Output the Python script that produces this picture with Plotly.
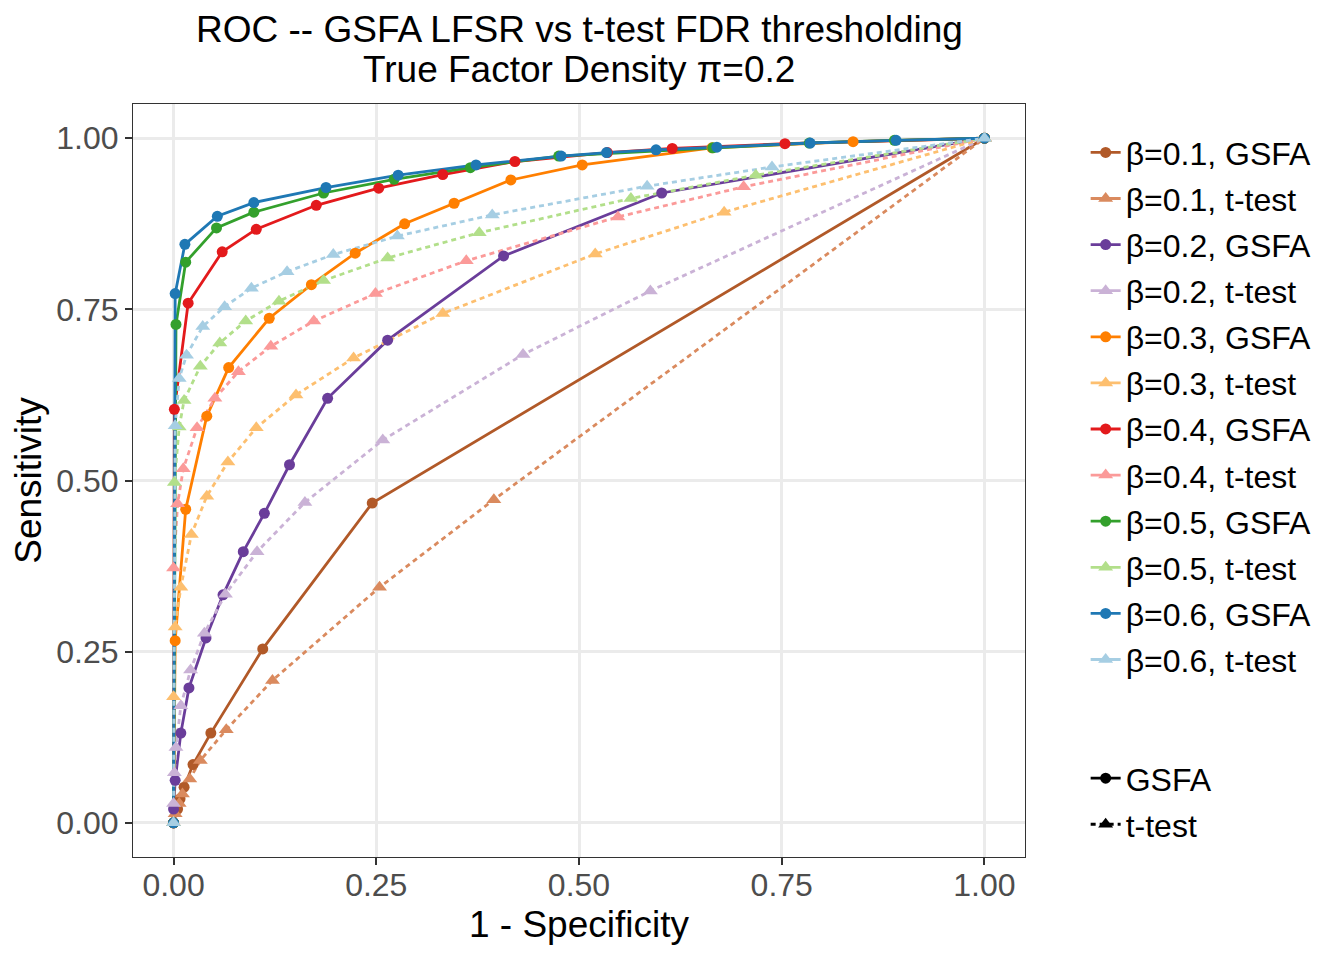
# ROC CHART: GSFA LFSR VS T-TEST FDR THRESHOLDING
# ===============================================

# LIBRARIES AND MODULES
# ----------------------
import plotly.graph_objects as charts

# DATA
# -------------------------------------

# Effect sizes and methods
betaLabels = ['β=0.1', 'β=0.2', 'β=0.3', 'β=0.4', 'β=0.5', 'β=0.6']
methodLabels = ['GSFA', 't-test']

# 1 - Specificity (x) and Sensitivity (y) for every beta / method
gsfaX01 = [0, 0.005, 0.008, 0.013, 0.024, 0.046, 0.110, 0.245, 1.0]
gsfaY01 = [0, 0.020, 0.035, 0.052, 0.085, 0.131, 0.254, 0.467, 1.0]
ttestX01 = [0, 0.002, 0.007, 0.011, 0.020, 0.033, 0.065, 0.122, 0.254, 0.395, 1.0]
ttestY01 = [0, 0.013, 0.028, 0.042, 0.064, 0.091, 0.136, 0.208, 0.344, 0.472, 1.0]

gsfaX02 = [0, 0.0, 0.002, 0.009, 0.019, 0.040, 0.061, 0.086, 0.112, 0.143, 0.190, 0.264, 0.407, 0.602, 1.0]
gsfaY02 = [0, 0.020, 0.062, 0.131, 0.197, 0.270, 0.333, 0.396, 0.452, 0.523, 0.620, 0.705, 0.828, 0.920, 1.0]
ttestX02 = [0, 0.0, 0.001, 0.003, 0.009, 0.021, 0.038, 0.064, 0.103, 0.162, 0.258, 0.431, 0.588, 1.0]
ttestY02 = [0, 0.028, 0.073, 0.110, 0.171, 0.223, 0.277, 0.334, 0.396, 0.468, 0.559, 0.684, 0.777, 1.0]

gsfaX03 = [0, 0.002, 0.015, 0.041, 0.068, 0.118, 0.170, 0.224, 0.285, 0.346, 0.416, 0.504, 0.664, 0.838, 1.0]
gsfaY03 = [0, 0.266, 0.458, 0.594, 0.665, 0.737, 0.786, 0.832, 0.875, 0.905, 0.939, 0.961, 0.986, 0.995, 1.0]
ttestX03 = [0, 0.0, 0.002, 0.009, 0.022, 0.041, 0.067, 0.102, 0.151, 0.222, 0.332, 0.520, 0.679, 1.0]
ttestY03 = [0, 0.184, 0.286, 0.344, 0.421, 0.477, 0.527, 0.577, 0.625, 0.679, 0.744, 0.831, 0.892, 1.0]

gsfaX04 = [0, 0.001, 0.018, 0.060, 0.102, 0.176, 0.253, 0.332, 0.421, 0.535, 0.615, 0.754, 1.0]
gsfaY04 = [0, 0.604, 0.759, 0.834, 0.867, 0.902, 0.927, 0.947, 0.966, 0.979, 0.985, 0.992, 1.0]
ttestX04 = [0, 0.0, 0.005, 0.012, 0.029, 0.051, 0.080, 0.120, 0.173, 0.249, 0.361, 0.548, 0.703, 1.0]
ttestY04 = [0, 0.372, 0.466, 0.517, 0.577, 0.620, 0.659, 0.696, 0.733, 0.773, 0.821, 0.885, 0.929, 1.0]

gsfaX05 = [0, 0.003, 0.015, 0.053, 0.099, 0.185, 0.272, 0.366, 0.475, 0.665, 0.784, 0.889, 1.0]
gsfaY05 = [0, 0.728, 0.819, 0.869, 0.892, 0.920, 0.940, 0.957, 0.974, 0.986, 0.993, 0.997, 1.0]
ttestX05 = [0, 0.001, 0.007, 0.013, 0.033, 0.057, 0.089, 0.130, 0.185, 0.264, 0.377, 0.564, 0.718, 1.0]
ttestY05 = [0, 0.497, 0.578, 0.617, 0.667, 0.701, 0.733, 0.762, 0.792, 0.825, 0.862, 0.912, 0.946, 1.0]

gsfaX06 = [0, 0.002, 0.014, 0.054, 0.099, 0.188, 0.277, 0.373, 0.478, 0.534, 0.595, 0.670, 0.785, 0.891, 1.0]
gsfaY06 = [0, 0.773, 0.845, 0.886, 0.906, 0.928, 0.946, 0.961, 0.974, 0.979, 0.983, 0.987, 0.993, 0.997, 1.0]
ttestX06 = [0, 0.002, 0.007, 0.016, 0.036, 0.063, 0.096, 0.140, 0.197, 0.276, 0.393, 0.584, 0.738, 1.0]
ttestY06 = [0, 0.580, 0.649, 0.683, 0.725, 0.754, 0.781, 0.805, 0.830, 0.857, 0.888, 0.930, 0.958, 1.0]

# Axis ticks
tickValues = [0, 0.25, 0.5, 0.75, 1.0]
tickLabels = ['0.00', '0.25', '0.50', '0.75', '1.00']

# Title lines
titleLines = ['ROC -- GSFA LFSR vs t-test FDR thresholding', 'True Factor Density π=0.2']

# Colors (dark = GSFA, light = t-test)
gsfaColors = ['#B15928', '#6A3D9A', '#FF7F00', '#E31A1C', '#33A02C', '#1F78B4']
ttestColors = ['#DA8A5E', '#CAB2D6', '#FDBF6F', '#FB9A99', '#B2DF8A', '#A6CEE3']

# Series in ggplot order: (beta, method, x, y, color)
allSeries = []
gsfaXs = [gsfaX01, gsfaX02, gsfaX03, gsfaX04, gsfaX05, gsfaX06]
gsfaYs = [gsfaY01, gsfaY02, gsfaY03, gsfaY04, gsfaY05, gsfaY06]
ttestXs = [ttestX01, ttestX02, ttestX03, ttestX04, ttestX05, ttestX06]
ttestYs = [ttestY01, ttestY02, ttestY03, ttestY04, ttestY05, ttestY06]
for ix, beta in enumerate(betaLabels):
    allSeries.append((beta, 'GSFA', gsfaXs[ix], gsfaYs[ix], gsfaColors[ix]))
    allSeries.append((beta, 't-test', ttestXs[ix], ttestYs[ix], ttestColors[ix]))

# FIGURE
# ------
fontName = 'Liberation Sans, Arial, sans-serif'
dashStyle = '5px,4px'
lineWidth = 2.8


def markerStyle(method, color):
    """Circle for GSFA, triangle for t-test"""
    if method == 'GSFA':
        return dict(color=color, size=11, symbol='circle')
    return dict(color=color, size=13, symbol='triangle-up')


figure = charts.Figure()

# Lines first (like geom_line), then markers on top (like geom_point)
for beta, method, xValues, yValues, color in allSeries:
    figure.add_trace(charts.Scatter(
        x=xValues, y=yValues, mode='lines', showlegend=False, hoverinfo='skip',
        line=dict(color=color, width=lineWidth, dash='solid' if method == 'GSFA' else dashStyle)
    ))
for beta, method, xValues, yValues, color in allSeries:
    figure.add_trace(charts.Scatter(
        x=xValues, y=yValues, mode='markers', showlegend=False,
        name=beta + ', ' + method, marker=markerStyle(method, color)
    ))

# Legend entries for colors (solid keys, as in ggplot)
for beta, method, xValues, yValues, color in allSeries:
    figure.add_trace(charts.Scatter(
        x=[None], y=[None], mode='lines+markers', name=beta + ', ' + method,
        legend='legend', legendgroup=beta + method,
        line=dict(color=color, width=lineWidth), marker=markerStyle(method, color)
    ))

# Legend entries for line types
for method in methodLabels:
    figure.add_trace(charts.Scatter(
        x=[None], y=[None], mode='lines+markers', name=method,
        legend='legend2', legendgroup='lt' + method,
        line=dict(color='black', width=lineWidth, dash='solid' if method == 'GSFA' else dashStyle),
        marker=markerStyle(method, 'black')
    ))

axisStyle = dict(
    range=[-0.05, 1.05], tickvals=tickValues, ticktext=tickLabels,
    showgrid=True, gridcolor='#EBEBEB', gridwidth=2.5, zeroline=False,
    showline=True, mirror=True, linecolor='#333333', linewidth=1.2,
    ticks='outside', ticklen=7, tickwidth=2, tickcolor='#333333',
    tickfont=dict(size=32, color='#4D4D4D', family=fontName),
)

# Title as two centred lines over the panel
titleNotes = [
    dict(text=titleLines[0], x=0.5, y=1.099),
    dict(text=titleLines[1], x=0.5, y=1.046),
]
for note in titleNotes:
    note.update(xref='paper', yref='paper', xanchor='center', yanchor='middle',
                showarrow=False, font=dict(size=37, family=fontName, color='black'))

# page has an 8px body margin, so the margins are shifted by 8px
figure.update_layout(
    width=1344, height=960,
    paper_bgcolor='white', plot_bgcolor='white',
    margin=dict(l=125, r=327, t=96, b=111),
    font=dict(family=fontName, color='black'),
    annotations=titleNotes,
    xaxis=dict(axisStyle, ticklabelstandoff=-8,
               title=dict(text='1 - Specificity', standoff=9,
                          font=dict(size=37, family=fontName, color='black'))),
    yaxis=dict(axisStyle, title=dict(text='Sensitivity', standoff=10,
                                     font=dict(size=37, family=fontName, color='black'))),
    legend=dict(x=1.068, xanchor='left', y=0.972, yanchor='top', tracegroupgap=1.5,
                font=dict(size=32, family=fontName, color='black'), bgcolor='rgba(0,0,0,0)'),
    legend2=dict(x=1.068, xanchor='left', y=0.141, yanchor='top', tracegroupgap=1.5,
                 font=dict(size=32, family=fontName, color='black'), bgcolor='rgba(0,0,0,0)'),
)

figure.write_html('out.html')
